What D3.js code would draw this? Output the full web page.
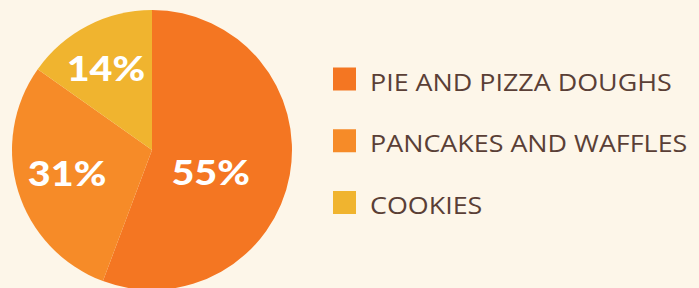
<!DOCTYPE html>
<html>
<head>
<meta charset="utf-8">
<script src="https://cdn.jsdelivr.net/npm/d3@7"></script>
<style>
  html, body { margin: 0; padding: 0; background: #fdf6e9; }
  svg { display: block; }
</style>
</head>
<body>
<div id="chart"></div>
<script>
var categories = ["PIE AND PIZZA DOUGHS", "PANCAKES AND WAFFLES", "COOKIES"]
// printed percentages
var shares = [55, 31, 14]
var sliceValues = [55.7, 29.1, 15.2]
var colours = ["#f47622", "#f68b28", "#f0b42f"]

var width = 699, height = 288

var svg = d3.select("#chart").append("svg")
  .attr("width", width)
  .attr("height", height)

svg.append("rect").attr("width", width).attr("height", height).attr("fill", "#fdf6e9")

var cx = 152, cy = 150, radius = 140

var pie = d3.pie().sort(null).value(function(d){ return d })
var arcs = pie(sliceValues)
var arc = d3.arc().innerRadius(0).outerRadius(radius)

var g = svg.append("g").attr("transform", "translate(" + cx + "," + cy + ")")

g.selectAll("path.slice").data(arcs).enter()
  .append("path")
  .attr("class", "slice")
  .attr("d", arc)
  .attr("fill", function(d, i){ return colours[i] })

// labels don't sit on the plain centroid in the original, nudge them
var labelR = [63, 88, 94]
var labelTurn = [11, 2, -2]
function labelPos(d, i){
  var a = (d.startAngle + d.endAngle) / 2 + labelTurn[i] * Math.PI / 180
  return [labelR[i] * Math.sin(a), -labelR[i] * Math.cos(a)]
}

g.selectAll("text.pct").data(arcs).enter()
  .append("text")
  .attr("class", "pct")
  .attr("transform", function(d, i){
    var p = labelPos(d, i)
    return "translate(" + p[0] + "," + p[1] + ") scale(1.13,1)"
  })
  .attr("text-anchor", "middle")
  .attr("dy", "0.36em")
  .attr("fill", "#ffffff")
  .style("font-family", "Lato, 'Open Sans', sans-serif")
  .style("font-weight", 900)
  .style("font-size", "35px")
  .text(function(d, i){ return shares[i] + "%" })

var legendY = d3.scalePoint().domain(categories).range([79, 202.5])

var legend = svg.selectAll("g.legend").data(categories).enter()
  .append("g")
  .attr("class", "legend")
  .attr("transform", function(d){ return "translate(333," + legendY(d) + ")" })

legend.append("rect")
  .attr("x", 0)
  .attr("y", -11.5)
  .attr("width", 23)
  .attr("height", 23)
  .attr("fill", function(d, i){ return colours[i] })

legend.append("text")
  .attr("transform", "translate(37,11.5) scale(1.12,1)")
  .attr("fill", "#5a3f36")
  .style("font-family", "'Open Sans', sans-serif")
  .style("font-weight", 500)
  .style("font-size", "24px")
  .text(function(d){ return d })
</script>
</body>
</html>
